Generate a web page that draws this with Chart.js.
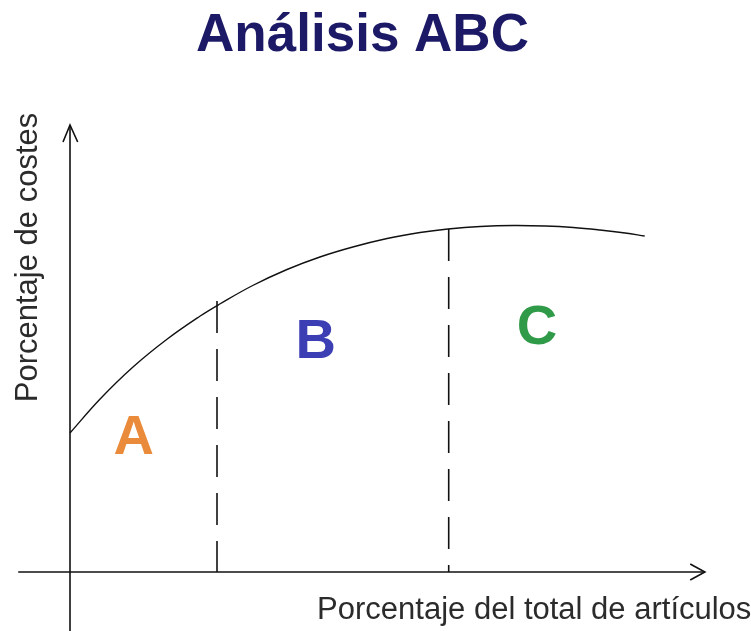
<!DOCTYPE html>
<html lang="es">

<head>
    <meta charset="UTF-8" />
    <meta name="viewport" content="width=device-width, initial-scale=1.0" />
    <title>Análisis ABC</title>
    <style>
        body { margin: 0; background: #fff; }
        #wrap { position: relative; width: 751px; height: 631px; }
    </style>
</head>

<body>
    <script src="https://cdn.jsdelivr.net/npm/chart.js"></script>

    <div id="wrap">
        <canvas id="chart" aria-label="Análisis ABC" role="img"></canvas>
    </div>
    <script>
        "use strict";
        // curve: % of articles (x) vs % of costs (y)
        const curveX = [0, 4.3, 9, 13.9, 18.6, 21.4, 26.1, 31, 35.7, 40.4, 45.3, 50, 54, 58.6, 63.3, 67.9, 71.9, 75.7, 79.3, 82.1];
        const curveY = [27.8, 34.6, 41, 46.6, 51.2, 53.6, 57.3, 60.5, 63, 65, 66.7, 67.9, 68.6, 69.1, 69.3, 69.2, 68.9, 68.4, 67.8, 67.2];
        // dashed borders between the classes
        const splitX = [21, 54.1];
        const splitTop = [54.2, 68.6];
        // class labels
        const zones = ["A", "B", "C"];
        const zoneX = [9.1, 35.1, 66.7];
        const zoneY = [26.6, 45.8, 48.6];
        const zoneColors = ["#e98b3a", "#3c3fb4", "#2f9b49"];
        // axis extents
        const xAxisRange = [-7.4, 90.7];
        const yAxisRange = [-11.8, 89.4];

        const curve = curveX.map((x, i) => ({ x: x, y: curveY[i] }));

        const ink = "#111";
        const line = (data, extra) => Object.assign({
            data: data,
            showLine: true,
            borderColor: ink,
            borderWidth: 1.6,
            pointRadius: 0,
            fill: false,
        }, extra || {});

        const datasets = [
            line(curve, { tension: 0.4, borderWidth: 1.4 }),
            line([{ x: xAxisRange[0], y: 0 }, { x: xAxisRange[1], y: 0 }]),
            line([{ x: xAxisRange[1] - 2.1, y: 1.6 }, { x: xAxisRange[1], y: 0 }, { x: xAxisRange[1] - 2.1, y: -1.6 }]),
            line([{ x: 0, y: yAxisRange[0] }, { x: 0, y: yAxisRange[1] }]),
            line([{ x: -1, y: yAxisRange[1] - 3.4 }, { x: 0, y: yAxisRange[1] }, { x: 1.1, y: yAxisRange[1] - 3.4 }]),
        ];
        splitX.forEach((sx, i) => {
            datasets.push(line([{ x: sx, y: splitTop[i] }, { x: sx, y: 0 }], { borderDash: [32, 16] }));
        });

        const textPlugin = {
            id: "texts",
            afterDatasetsDraw(chart) {
                const ctx = chart.ctx;
                const xs = chart.scales.x;
                const ys = chart.scales.y;
                ctx.save();
                ctx.textAlign = "center";
                ctx.textBaseline = "middle";
                ctx.font = "bold 56px 'Liberation Sans', Arial, sans-serif";
                zones.forEach((z, i) => {
                    ctx.fillStyle = zoneColors[i];
                    ctx.fillText(z, xs.getPixelForValue(zoneX[i]), ys.getPixelForValue(zoneY[i]));
                });
                ctx.fillStyle = "#2b2b2b";
                ctx.font = "31px 'Liberation Sans', Arial, sans-serif";
                ctx.textAlign = "left";
                ctx.fillText("Porcentaje del total de artículos", xs.getPixelForValue(35.3), ys.getPixelForValue(-7.7));
                ctx.translate(xs.getPixelForValue(-5.9), ys.getPixelForValue(62.9));
                ctx.rotate(-Math.PI / 2);
                ctx.textAlign = "center";
                ctx.fillText("Porcentaje de costes", 0, 0);
                ctx.restore();
            }
        };

        new Chart(document.getElementById("chart"), {
            type: "scatter",
            data: { datasets: datasets },
            options: {
                responsive: true,
                maintainAspectRatio: false,
                animation: false,
                layout: { padding: { left: 0, right: 26, top: 0, bottom: 0 } },
                plugins: {
                    legend: { display: false },
                    tooltip: { enabled: false },
                    title: {
                        display: true,
                        text: "Análisis ABC",
                        color: "#1c1a66",
                        font: { family: "'Liberation Sans', Arial, sans-serif", size: 53, weight: "bold" },
                        padding: { top: 5, bottom: 0 },
                    },
                },
                scales: {
                    x: { type: "linear", display: false, min: -10, max: 93.57 },
                    y: { type: "linear", display: false, min: -11.8, max: 100.68 },
                },
            },
            plugins: [textPlugin],
        });
    </script>
</body>

</html>
